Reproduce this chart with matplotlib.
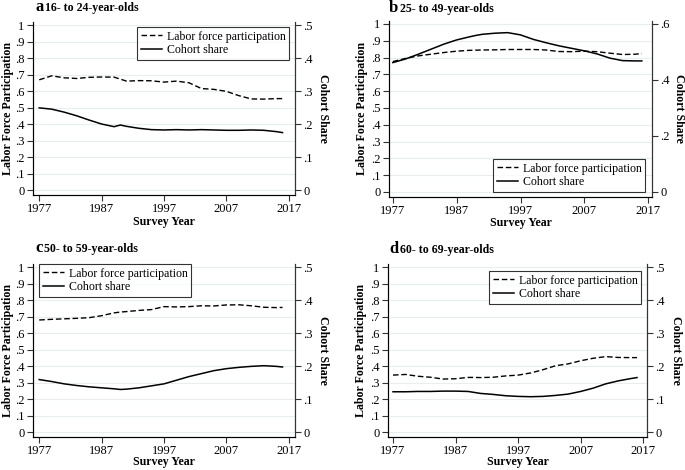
import matplotlib
matplotlib.use("Agg")
import matplotlib.pyplot as plt
from matplotlib.lines import Line2D

plt.rcParams['font.family'] = ['Liberation Serif', 'DejaVu Serif']

years = [1977, 1979, 1981, 1983, 1985, 1987, 1989, 1990, 1991, 1993, 1995,
         1997, 1999, 2001, 2003, 2005, 2007, 2009, 2011, 2013, 2015, 2016]

# Panel a: 16- to 24-year-olds
lfp_a = [.668, .692, .680, .676, .683, .685, .684, .672, .660, .663, .662,
         .654, .660, .650, .615, .610, .598, .572, .552, .551, .554, .554]
share_a = [.249, .245, .236, .225, .212, .200, .192, .197, .193, .187, .183,
           .182, .183, .182, .183, .182, .181, .181, .182, .181, .177, .174]

# Panel b: 25- to 49-year-olds
lfp_b = [.776, .795, .810, .820, .830, .838, .843, .844, .845, .846, .848,
         .848, .848, .845, .836, .835, .838, .835, .826, .818, .820, .824]
share_b = [.462, .475, .492, .510, .528, .543, .554, .559, .563, .567, .569,
           .561, .545, .533, .522, .513, .504, .493, .478, .469, .468, .468]

# Panel c: 50- to 59-year-olds
lfp_c = [.679, .683, .686, .689, .693, .705, .722, .727, .730, .737, .742,
         .760, .758, .760, .765, .764, .770, .771, .765, .756, .754, .755]
share_c = [.159, .153, .146, .141, .137, .134, .131, .129, .130, .134, .140,
           .146, .157, .168, .177, .186, .192, .196, .199, .201, .199, .197]

# Panel d: 60- to 69-year-olds
lfp_d = [.345, .349, .338, .332, .321, .323, .331, .331, .330, .332, .340,
         .345, .358, .378, .402, .413, .432, .447, .457, .452, .451, .451]
share_d = [.122, .122, .123, .123, .124, .124, .123, .120, .117, .114, .110,
           .108, .107, .108, .111, .115, .123, .133, .146, .155, .162, .165]

panels = [
    ("a", "16- to 24-year-olds", lfp_a, share_a, 0.5, [0, .1, .2, .3, .4, .5], (137, 27)),
    ("b", "25- to 49-year-olds", lfp_b, share_b, 0.6, [0, .2, .4, .6], (493, 159)),
    ("c", "50- to 59-year-olds", lfp_c, share_c, 0.5, [0, .1, .2, .3, .4, .5], (39, 264)),
    ("d", "60- to 69-year-olds", lfp_d, share_d, 0.5, [0, .1, .2, .3, .4, .5], (489, 271)),
]

W, H = 685, 470
# axes boxes in pixels: left, right, top, bottom ; xlim ; right-label x ; left-label x ; xlabel y
boxes = [
    (33, 295, 21.7, 195, (1976.0, 2018.0), 323, 8, 222),
    (389, 652, 20.6, 197, (1976.4, 2017.6), 679, 362, 223),
    (33, 295, 263.7, 437, (1976.0, 2018.0), 323, 8, 462),
    (388, 647, 263.7, 437, (1976.2, 2017.6), 676, 361, 462),
]
title_pos = [(35, 11), (389, 12), (35, 252), (389, 253)]

def fmt(v):
    if abs(v) < 1e-9:
        return "0"
    if abs(v - 1) < 1e-9:
        return "1"
    return ("%.1f" % v)[1:]

fig = plt.figure(figsize=(6.85, 4.70), dpi=100)
renderer = fig.canvas.get_renderer()
grid_c = "#e6eef0"
for (letter, title, lfp, share, rmax, rticks, lpos), (l, r, t, b, xl, rx, lxp, xly), (tx, ty) in zip(panels, boxes, title_pos):
    ax = fig.add_axes([l / W, 1 - b / H, (r - l) / W, (b - t) / H])
    ax.set_xlim(*xl)
    ax.set_ylim(-0.03, 1.02)
    lticks = [i / 10 for i in range(11)]
    ax.set_yticks(lticks)
    ax.set_yticklabels([fmt(v) for v in lticks])
    for v in lticks:
        ax.axhline(v, color=grid_c, lw=0.8, zorder=0)
    ax.set_xticks([1977, 1987, 1997, 2007, 2017])
    ax.tick_params(axis='both', labelsize=9, length=4, width=0.8, color='#333333', pad=2)
    ax.spines['top'].set_visible(False)
    for s in ['left', 'bottom', 'right']:
        ax.spines[s].set_color('#333333')
        ax.spines[s].set_linewidth(0.8)
    ax.plot(years, lfp, color='black', lw=1.0, ls=(0, (4, 2)))
    ax.set_ylabel("Labor Force Participation", fontsize=8.6, fontweight='bold',
                  va='center')
    ax.yaxis.set_label_coords((lxp - l) / (r - l), 0.5)
    ax.set_xlabel("Survey Year", fontsize=8.6, fontweight='bold', va='center')
    ax.xaxis.set_label_coords(0.5, (b - xly) / (b - t))

    ax2 = ax.twinx()
    ax2.set_ylim(-0.03 * rmax, 1.02 * rmax)
    ax2.set_yticks(rticks)
    ax2.set_yticklabels([fmt(v) for v in rticks])
    ax2.tick_params(axis='y', labelsize=9, length=4, width=0.8, color='#333333', pad=2)
    ax2.spines['top'].set_visible(False)
    ax2.spines['right'].set_color('#333333')
    ax2.spines['right'].set_linewidth(0.8)
    ax2.plot(years, share, color='black', lw=1.1)
    ax2.set_ylabel("Cohort Share", fontsize=8.6, fontweight='bold', rotation=270,
                   va='center')
    ax2.yaxis.set_label_coords((rx - l) / (r - l), 0.5)

    handles = [Line2D([], [], color='black', lw=1.0, ls=(0, (4, 2))),
               Line2D([], [], color='black', lw=1.1)]
    lx, ly = lpos
    leg = ax2.legend(handles, ["Labor force participation", "Cohort share"],
                     loc='upper left', bbox_to_anchor=(lx / W, 1 - ly / H),
                     bbox_transform=fig.transFigure,
                     fontsize=8.6, frameon=True, fancybox=False, handlelength=1.8,
                     handletextpad=0.4, borderpad=0.3, labelspacing=0.15,
                     borderaxespad=0.0)
    leg.get_frame().set_edgecolor('black')
    leg.get_frame().set_linewidth(0.8)

    lt = fig.text(tx / W, 1 - ty / H, letter, fontsize=12, fontweight='bold',
                  ha='left', va='baseline')
    wpx = lt.get_window_extent(renderer).width
    fig.text((tx + wpx + 2) / W, 1 - ty / H, title, fontsize=8.6, fontweight='bold',
             ha='left', va='baseline')

fig.savefig("out.png", dpi=100)
